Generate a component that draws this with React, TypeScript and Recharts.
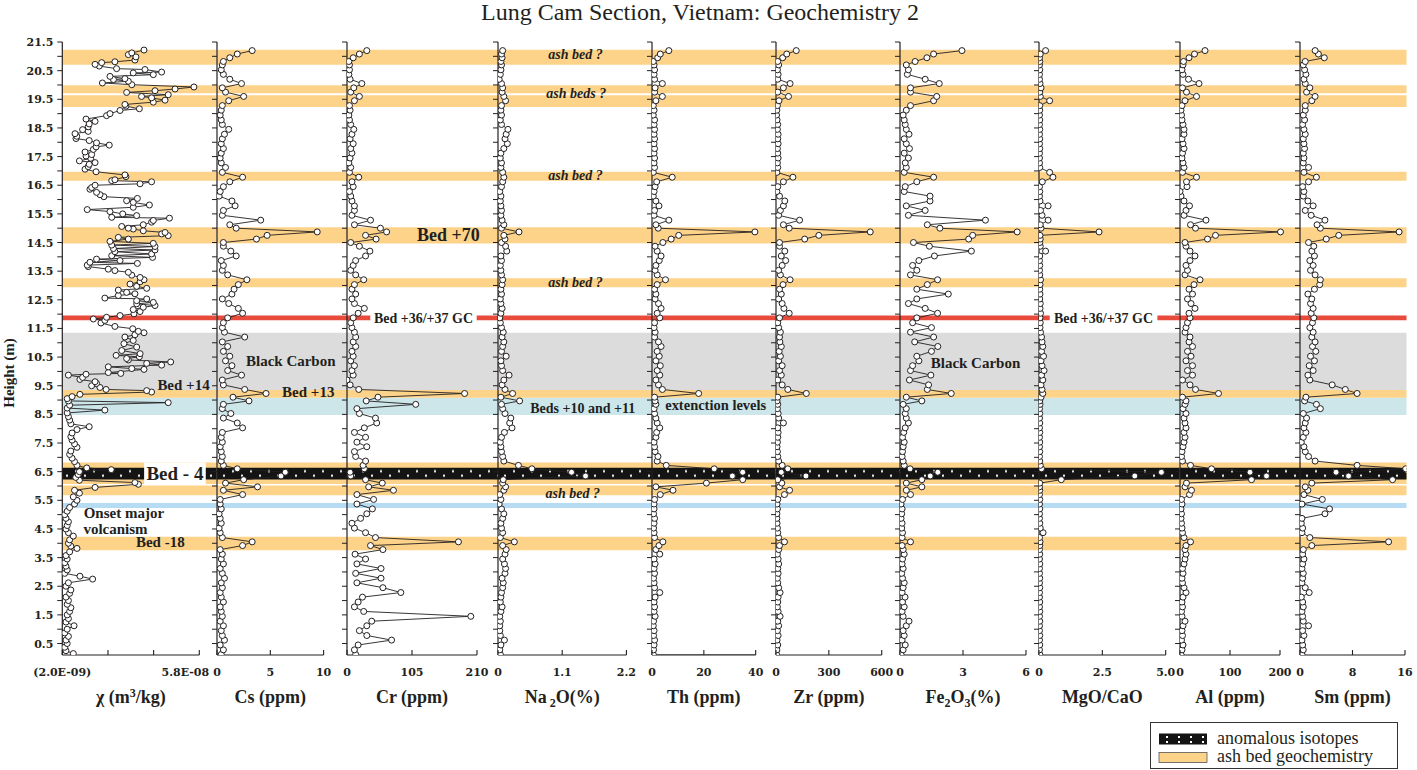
import React from "react";
import {
  LineChart,
  Line,
  XAxis,
  YAxis,
  ReferenceArea,
  ReferenceLine,
  ReferenceDot,
} from "recharts";

const SERIF = '"Liberation Serif", "Times New Roman", serif';
const TICK_FONT = '"DejaVu Serif", serif';
const INK = "#231f20";
const ASH = "#fdd38a";
const CARBON = "#dcdcdc";
const EXTINCTION = "#cde6ea";
const ONSET = "#b5dcf2";
const GC_RED = "#e84a3c";

const CHART_H = 720;
const PLOT_TOP = 42;
const PLOT_BOTTOM = 655;

// sample heights (m) of the geochemistry samples
const heights = [
  0.12, 0.28, 0.45, 0.62, 0.78, 0.95, 1.12, 1.28, 1.45, 1.62,
  1.78, 1.95, 2.12, 2.28, 2.45, 2.62, 2.78, 2.95, 3.12, 3.28,
  3.45, 3.62, 3.78, 3.92, 4.05, 4.2, 4.37, 4.53, 4.7, 4.87,
  5.03, 5.2, 5.37, 5.53, 5.7, 5.85, 5.97, 6.1, 6.22, 6.35,
  6.48, 6.6, 6.72, 6.87, 7.03, 7.2, 7.37, 7.53, 7.7, 7.87,
  8.03, 8.2, 8.37, 8.53, 8.7, 8.85, 8.97, 9.1, 9.23, 9.37,
  9.53, 9.7, 9.87, 10.03, 10.2, 10.37, 10.53, 10.7, 10.87, 11.03,
  11.2, 11.37, 11.53, 11.7, 11.87, 12.03, 12.2, 12.37, 12.53, 12.7,
  12.87, 13.03, 13.2, 13.37, 13.53, 13.7, 13.87, 14.03, 14.2, 14.37,
  14.5, 14.62, 14.75, 14.87, 15.0, 15.12, 15.28, 15.45, 15.62, 15.78,
  15.95, 16.12, 16.28, 16.45, 16.62, 16.78, 16.95, 17.12, 17.28, 17.45,
  17.62, 17.78, 17.95, 18.12, 18.28, 18.45, 18.62, 18.78, 18.95, 19.12,
  19.28, 19.45, 19.6, 19.75, 19.9, 20.05, 20.2, 20.37, 20.53, 20.7,
  20.82, 20.95, 21.08, 21.2,
];

const cs = [
  0.4, 0.6, 0.3, 0.7, 0.5, 0.4, 0.6, 0.3, 0.5, 0.4,
  0.3, 0.6, 0.4, 0.3, 0.5, 0.4, 0.7, 0.5, 0.3, 0.6,
  0.4, 0.5, 0.3, 2.4, 3.3, 0.5, 0.3, 0.2, 0.4, 0.3,
  0.2, 0.4, 0.3, 0.3, 2.4, 0.6, 3.8, 0.8, 2.5, 6.0,
  6.4, 1.9, 0.6, 0.4, 0.5, 0.4, 0.3, 0.5, 0.4, 0.5,
  2.4, 1.9, 0.6, 1.3, 0.5, 0.6, 3.0, 1.5, 4.6, 2.6,
  0.6, 0.5, 2.3, 1.0, 1.4, 0.8, 1.2, 0.6, 1.0, 0.5,
  2.6, 0.7, 0.5, 0.6, 1.0, 2.4, 2.0, 1.1, 0.5, 1.4,
  1.6, 2.0, 2.8, 1.0, 0.5, 0.6, 0.4, 1.8, 1.3, 0.6,
  0.6, 3.7, 4.7, 9.4, 1.8, 1.2, 4.1, 0.5, 0.6, 1.7,
  1.4, 0.2, 0.3, 0.6, 1.2, 2.4, 0.5, 0.8, 0.4, 0.3,
  0.4, 0.6, 0.4, 0.5, 0.7, 1.1, 0.5, 0.4, 0.3, 0.4,
  0.5, 1.1, 2.5, 0.8, 0.5, 2.3, 1.2, 0.6, 0.4, 0.5,
  0.6, 1.2, 1.9, 3.3,
];

const cr = [
  14, 12, 18, 72, 32, 20, 32, 40, 200, 27,
  12, 18, 25, 87, 58, 16, 55, 14, 55, 16,
  30, 13, 58, 38, 180, 46, 30, 12, 8, 22,
  32, 41, 16, 43, 16, 75, 35, 57, 30, 6,
  5, 28, 26, 30, 14, 12, 32, 16, 30, 12,
  28, 48, 46, 20, 16, 111, 31, 50, 190, 19,
  5, 0, 10, 8, 12, 6, 10, 8, 14, 10,
  14, 12, 8, 6, 10, 18, 28, 12, 8, 14,
  8, 12, 27, 14, 6, 10, 14, 30, 37, 20,
  6, 47, 30, 64, 54, 12, 38, 8, 12, 12,
  8, 6, 4, 10, 8, 19, 4, 6, 3, 5,
  8, 6, 10, 5, 8, 11, 6, 4, 3, 5,
  4, 12, 20, 6, 11, 24, 5, 3, 4, 4,
  3, 10, 20, 32,
];

const na2o = [
  0.04, 0.03, 0.05, 0.11, 0.04, 0.03, 0.03, 0.04, 0.03, 0.05,
  0.07, 0.04, 0.05, 0.06, 0.08, 0.09, 0.07, 0.12, 0.13, 0.11,
  0.08, 0.12, 0.14, 0.08, 0.28, 0.04, 0.08, 0.06, 0.05, 0.08,
  0.1, 0.06, 0.02, 0.05, 0.03, 0.1, 0.13, 0.08, 0.09, 1.5,
  1.26, 0.58, 0.35, 0.1, 0.08, 0.06, 0.05, 0.04, 0.06, 0.11,
  0.24, 0.2, 0.22, 0.12, 0.08, 0.06, 0.37, 0.05, 0.25, 0.12,
  0.07, 0.1, 0.19, 0.08, 0.06, 0.05, 0.14, 0.06, 0.08, 0.1,
  0.07, 0.09, 0.06, 0.04, 0.03, 0.05, 0.07, 0.05, 0.04, 0.06,
  0.05, 0.07, 0.08, 0.06, 0.05, 0.04, 0.06, 0.05, 0.15, 0.13,
  0.06, 0.12, 0.1, 0.36, 0.06, 0.1, 0.07, 0.05, 0.06, 0.05,
  0.04, 0.05, 0.03, 0.06, 0.08, 0.1, 0.08, 0.05, 0.06, 0.04,
  0.05, 0.1, 0.16, 0.12, 0.14, 0.17, 0.06, 0.04, 0.06, 0.05,
  0.06, 0.13, 0.1, 0.07, 0.08, 0.06, 0.02, 0.04, 0.05, 0.06,
  0.05, 0.07, 0.06, 0.08,
];

const th = [
  0.5, 0.6, 0.8, 1.0, 0.6, 0.8, 0.5, 0.6, 1.2, 0.8,
  1.0, 0.8, 1.2, 3.0, 1.0, 0.8, 0.6, 1.0, 0.8, 1.2,
  0.8, 3.0, 1.5, 2.7, 4.2, 1.0, 0.8, 0.6, 0.8, 1.0,
  0.6, 0.8, 0.8, 1.0, 3.2, 8.1, 1.5, 21, 35, 31,
  35, 24, 5.5, 2.0, 2.3, 1.2, 1.0, 0.8, 1.5, 1.8,
  3.0, 2.0, 1.5, 1.0, 0.8, 1.5, 1.2, 1.0, 18, 4.0,
  2.5, 1.5, 3.0, 2.0, 3.2, 1.5, 2.8, 2.0, 3.5, 2.5,
  1.0, 1.2, 0.8, 1.0, 3.0, 2.0, 3.5, 2.5, 1.2, 1.5,
  1.0, 2.0, 5.2, 2.0, 1.2, 1.5, 2.8, 3.5, 2.0, 1.2,
  4.2, 7.4, 10.3, 39.7, 2.4, 1.5, 6.5, 0.8, 1.0, 2.7,
  1.5, 0.5, 0.8, 1.2, 1.8, 7.8, 0.5, 1.0, 0.8, 1.0,
  0.8, 1.0, 0.8, 1.0, 0.8, 1.0, 0.8, 1.0, 0.5, 0.8,
  0.5, 1.5, 4.0, 1.0, 1.2, 4.0, 1.0, 0.8, 1.0, 0.8,
  0.5, 2.2, 3.2, 6.5,
];

const zr = [
  3, 5, 10, 6, 12, 8, 15, 10, 23, 12,
  8, 10, 12, 23, 15, 10, 8, 12, 10, 15,
  12, 8, 15, 20, 48, 15, 10, 8, 6, 5,
  5, 8, 6, 10, 48, 77, 20, 33, 10, 170,
  30, 67, 35, 15, 10, 8, 6, 8, 10, 12,
  10, 42, 15, 12, 8, 10, 6, 10, 172, 67,
  35, 10, 30, 20, 35, 15, 25, 18, 30, 22,
  20, 25, 15, 10, 20, 75, 45, 35, 15, 30,
  20, 40, 80, 25, 15, 35, 55, 30, 50, 20,
  20, 163, 243, 535, 75, 42, 134, 15, 25, 42,
  50, 20, 5, 10, 42, 96, 5, 10, 8, 12,
  10, 8, 12, 10, 12, 8, 10, 6, 3, 5,
  8, 17, 71, 10, 42, 80, 10, 12, 8, 15,
  10, 38, 61, 115,
];

const fe2o3 = [
  0.05, 0.15, 0.25, 0.1, 0.2, 0.15, 0.3, 0.43, 0.15, 0.1,
  0.2, 0.12, 0.24, 0.1, 0.15, 0.2, 0.12, 0.08, 0.15, 0.1,
  0.12, 0.2, 0.15, 0.1, 0.5, 0.1, 0.12, 0.08, 0.1, 0.05,
  0.08, 0.1, 0.05, 0.12, 0.5, 0.3, 1.04, 0.3, 1.04, 1.44,
  1.8, 0.48, 0.2, 0.15, 0.1, 0.12, 0.15, 0.2, 0.12, 0.18,
  0.25, 0.4, 0.3, 0.25, 0.3, 0.15, 1.04, 0.3, 2.44, 1.3,
  1.36, 0.45, 1.47, 0.5, 0.6, 0.9, 0.8, 1.5, 1.8, 0.7,
  1.6, 0.5, 1.5, 0.6, 0.8, 1.79, 1.2, 0.4, 0.8, 2.3,
  0.8, 1.3, 1.79, 0.5, 0.8, 0.6, 0.9, 1.64, 3.4, 1.4,
  0.64, 3.27, 3.46, 5.58, 1.9, 1.3, 4.07, 0.4, 1.2, 0.3,
  1.43, 1.43, 0.2, 0.25, 0.8, 1.6, 0.2, 0.3, 0.25, 0.4,
  0.2, 0.45, 0.3, 0.2, 0.43, 0.3, 0.25, 0.2, 0.15, 0.3,
  0.5, 1.6, 1.75, 0.5, 0.5, 1.87, 1.2, 0.35, 0.4, 0.3,
  0.72, 1.28, 1.6, 2.95,
];

const mgoCao = [
  0.03, 0.02, 0.03, 0.02, 0.03, 0.02, 0.02, 0.03, 0.02, 0.03,
  0.02, 0.03, 0.02, 0.02, 0.03, 0.02, 0.03, 0.02, 0.02, 0.03,
  0.02, 0.03, 0.02, 0.03, 0.04, 0.02, 0.16, 0.05, 0.03, 0.02,
  0.02, 0.03, 0.02, 0.03, 0.02, 0.03, 0.02, 0.03, 0.88, 3.78,
  4.83, 0.1, 0.05, 0.03, 0.02, 0.03, 0.02, 0.03, 0.02, 0.03,
  0.02, 0.03, 0.02, 0.03, 0.02, 0.04, 0.03, 0.08, 0.15, 0.12,
  0.08, 0.15, 0.1, 0.2, 0.12, 0.08, 0.18, 0.1, 0.15, 0.12,
  0.1, 0.06, 0.04, 0.05, 0.04, 0.06, 0.04, 0.05, 0.03, 0.04,
  0.03, 0.04, 0.06, 0.03, 0.02, 0.03, 0.02, 0.03, 0.26, 0.05,
  0.03, 0.05, 0.04, 2.37, 0.08, 0.05, 0.36, 0.12, 0.06, 0.36,
  0.04, 0.02, 0.03, 0.02, 0.13, 0.55, 0.42, 0.03, 0.02, 0.02,
  0.02, 0.03, 0.02, 0.03, 0.02, 0.03, 0.02, 0.03, 0.02, 0.03,
  0.03, 0.42, 0.05, 0.03, 0.08, 0.04, 0.02, 0.02, 0.03, 0.02,
  0.03, 0.02, 0.05, 0.26,
];

const al = [
  2, 4, 6, 3, 5, 4, 6, 10, 4, 3,
  5, 4, 6, 12, 8, 5, 4, 6, 5, 8,
  10, 12, 10, 12, 21, 8, 5, 4, 3, 2,
  3, 2, 4, 3, 19, 23, 10, 13, 143, 173,
  140, 63, 21, 5, 3, 4, 6, 8, 10, 8,
  12, 10, 8, 12, 6, 10, 12, 5, 77, 31,
  20, 5, 25, 15, 25, 12, 22, 15, 25, 18,
  20, 10, 12, 15, 20, 18, 30, 22, 15, 25,
  18, 28, 40, 10, 15, 12, 20, 30, 20, 12,
  10, 55, 71, 201, 31, 21, 52, 8, 12, 19,
  8, 2, 0, 14, 13, 33, 5, 8, 6, 4,
  5, 8, 6, 4, 8, 8, 6, 4, 3, 2,
  4, 10, 33, 13, 5, 38, 17, 6, 4, 6,
  7, 18, 29, 50,
];

const sm = [
  0.3, 0.5, 0.4, 0.3, 0.6, 0.4, 1.3, 0.5, 0.4, 0.3,
  0.5, 0.4, 0.2, 1.4, 0.8, 0.3, 0.4, 0.5, 0.3, 0.4,
  0.6, 0.4, 0.5, 1.8, 13.5, 1.5, 0.3, 0.4, 0.2, 0.3,
  3.8, 4.5, 0.3, 3.4, 0.6, 1.2, 0.8, 1.8, 14.1, 7.4,
  5.5, 16.1, 8.7, 2.3, 1.3, 0.8, 0.6, 0.2, 0.5, 0.9,
  0.6, 0.8, 1.0, 0.5, 3.1, 2.5, 0.7, 0.9, 8.7, 6.9,
  4.9, 1.5, 1.2, 2.0, 1.4, 2.2, 1.6, 2.4, 1.9, 2.3,
  1.8, 2.0, 1.5, 1.9, 2.1, 1.7, 2.0, 1.6, 1.8, 1.2,
  2.2, 3.0, 3.1, 2.3, 1.6, 2.0, 1.5, 2.2, 1.8, 2.1,
  1.3, 4.0, 5.9, 15.1, 3.1, 2.6, 3.8, 1.7, 0.8, 2.0,
  1.2, 0.5, 0.6, 0.4, 1.3, 2.5, 0.6, 1.3, 0.5, 0.6,
  0.5, 0.7, 0.6, 0.5, 0.8, 0.6, 0.4, 0.7, 0.5, 0.8,
  0.8, 1.8, 2.3, 1.0, 1.5, 0.8, 0.6, 0.9, 0.7, 0.5,
  0.8, 3.7, 2.8, 2.3,
];

// magnetic susceptibility has its own, denser sampling (units of 1E-08 m3/kg)
const chiHeights = [
  0.15, 0.25, 0.37, 0.5, 0.62, 0.75, 0.87, 1.0, 1.12, 1.25,
  1.37, 1.5, 1.62, 1.75, 1.87, 2.0, 2.12, 2.25, 2.37, 2.5,
  2.62, 2.75, 2.85, 2.95, 3.07, 3.2, 3.32, 3.45, 3.57, 3.7,
  3.82, 3.9, 4.0, 4.12, 4.25, 4.37, 4.5, 4.62, 4.75, 4.87,
  5.0, 5.12, 5.25, 5.37, 5.5, 5.62, 5.75, 5.85, 5.95, 6.06,
  6.12, 6.2, 6.3, 6.4, 6.5, 6.57, 6.63, 6.72, 6.85, 6.97,
  7.1, 7.22, 7.35, 7.47, 7.6, 7.72, 7.85, 7.97, 8.07, 8.17,
  8.3, 8.42, 8.55, 8.65, 8.72, 8.82, 8.91, 8.97, 9.05, 9.12,
  9.2, 9.28, 9.33, 9.37, 9.44, 9.5, 9.58, 9.64, 9.72, 9.79,
  9.87, 9.9, 9.93, 9.96, 10.07, 10.1, 10.16, 10.22, 10.28, 10.33,
  10.4, 10.45, 10.51, 10.56, 10.62, 10.73, 10.85, 10.97, 11.08, 11.2,
  11.28, 11.35, 11.4, 11.49, 11.57, 11.69, 11.78, 11.83, 11.89, 11.95,
  12.01, 12.09, 12.16, 12.24, 12.3, 12.36, 12.41, 12.47, 12.53, 12.56,
  12.65, 12.71, 12.76, 12.84, 12.9, 12.97, 13.05, 13.13, 13.2, 13.28,
  13.36, 13.46, 13.52, 13.57, 13.66, 13.71, 13.77, 13.81, 13.87, 13.92,
  13.98, 14.04, 14.1, 14.18, 14.24, 14.29, 14.36, 14.41, 14.47, 14.54,
  14.62, 14.68, 14.74, 14.8, 14.85, 14.91, 14.97, 15.0, 15.06, 15.12,
  15.21, 15.27, 15.35, 15.38, 15.44, 15.5, 15.58, 15.65, 15.73, 15.81,
  15.9, 15.96, 16.04, 16.1, 16.17, 16.25, 16.36, 16.42, 16.5, 16.55,
  16.62, 16.66, 16.69, 16.8, 16.86, 16.97, 17.06, 17.15, 17.23, 17.29,
  17.35, 17.44, 17.52, 17.57, 17.66, 17.75, 17.84, 17.9, 17.98, 18.06,
  18.13, 18.21, 18.3, 18.38, 18.44, 18.54, 18.64, 18.73, 18.81, 18.93,
  19.0, 19.11, 19.17, 19.26, 19.32, 19.4, 19.47, 19.55, 19.6, 19.66,
  19.74, 19.8, 19.86, 19.93, 20.01, 20.07, 20.13, 20.19, 20.22, 20.3,
  20.36, 20.42, 20.45, 20.54, 20.57, 20.66, 20.72, 20.78, 20.81, 20.87,
  20.98, 21.06, 21.12, 21.22,
];
const chi = [
  0.65, 0.35, 0.3, 0.4, 0.35, 0.45, 0.3, 0.4, 0.68, 0.35,
  0.45, 0.4, 0.5, 0.55, 0.4, 0.45, 0.35, 0.5, 0.55, 0.35,
  0.45, 1.44, 0.92, 0.3, 0.4, 0.35, 0.3, 0.4, 0.35, 0.5,
  0.8, 0.55, 0.45, 0.5, 0.65, 0.45, 0.35, 0.4, 0.45, 0.35,
  0.3, 0.4, 0.5, 0.7, 0.8, 0.65, 0.9, 0.7, 1.54, 3.31,
  3.17, 0.9, 0.75, 0.85, 0.9, 2.2, 1.2, 0.8, 0.7, 0.6,
  0.5, 0.55, 0.8, 0.7, 0.6, 0.55, 0.6, 0.8, 1.3, 0.55,
  0.5, 0.45, 0.4, 1.94, 0.4, 0.5, 4.53, 0.45, 0.4, 0.6,
  0.92, 3.85, 3.65, 1.99, 1.74, 1.4, 1.6, 1.54, 0.92, 1.03,
  0.45, 1.17, 2.59, 2.08, 3.54, 3.04, 2.08, 4.26, 3.65, 4.63,
  2.9, 2.83, 3.35, 2.4, 3.38, 2.63, 3.24, 2.72, 3.1, 2.76,
  3.17, 3.54, 3.31, 3.08, 2.35, 1.78, 1.94, 1.47, 2.01, 2.56,
  3.13, 3.38, 3.1, 3.51, 3.99, 3.24, 3.92, 3.24, 3.65, 1.94,
  2.49, 3.17, 2.83, 2.49, 3.65, 3.24, 2.97, 3.38, 3.54, 3.38,
  3.04, 2.9, 2.35, 2.08, 1.26, 1.22, 3.27, 1.33, 2.56, 1.6,
  3.89, 2.22, 3.85, 2.35, 3.99, 2.29, 3.99, 2.22, 3.92, 2.15,
  2.9, 2.49, 4.53, 4.26, 4.4, 3.51, 3.1, 2.9, 2.63, 3.51,
  3.85, 3.92, 4.58, 2.22, 3.24, 2.67, 2.15, 1.22, 3.1, 3.76,
  3.1, 2.83, 3.27, 1.9, 1.74, 1.6, 1.33, 1.4, 1.54, 3.38,
  3.85, 2.22, 2.35, 2.8, 2.76, 1.58, 1.13, 1.26, 1.3, 1.54,
  0.9, 1.36, 1.17, 1.4, 1.13, 1.47, 1.58, 2.12, 1.6, 1.3,
  0.76, 0.79, 0.72, 1.26, 1.03, 1.26, 1.3, 1.54, 1.17, 2.01,
  2.15, 2.56, 3.35, 2.8, 2.76, 3.92, 4.4, 3.85, 3.44, 4.53,
  2.83, 3.99, 4.81, 5.58, 3.04, 1.84, 2.9, 2.29, 2.76, 2.15,
  3.92, 3.1, 4.26, 3.58, 2.42, 1.71, 1.54, 1.81, 2.35, 3.17,
  3.21, 2.9, 3.04, 3.54,
];

const yTicks = [
  0.5, 1, 1.5, 2, 2.5, 3, 3.5, 4, 4.5, 5, 5.5, 6, 6.5, 7, 7.5, 8, 8.5, 9, 9.5, 10,
  10.5, 11, 11.5, 12, 12.5, 13, 13.5, 14, 14.5, 15, 15.5, 16, 16.5, 17, 17.5, 18,
  18.5, 19, 19.5, 20, 20.5, 21, 21.5,
];

// marker horizons (m)
const ashBeds = [
  [20.71, 21.23], [19.71, 19.99], [19.23, 19.64], [16.66, 16.97], [14.47, 15.03],
  [12.94, 13.25], [9.08, 9.35], [6.07, 6.82], [5.68, 6.02], [3.76, 4.23],
];
const isotopeBed = [6.23, 6.64];
const blackCarbon = [9.35, 11.35];
const extinctionBeds = [8.48, 9.08];
const volcanismOnset = [5.23, 5.41];
const gcLevel = 11.87;

type Seg = { t: string; sub?: boolean; sup?: boolean };
type Panel = {
  key: string;
  left: number;
  right: number;
  endPx: number;
  d0: number;
  end: number;
  ticks: number[];
  labels: (string | null)[];
  labelDx?: number[];
  titleAt: number;
  title: Seg[];
  hs: number[];
  values: number[];
};

const panels: Panel[] = [
  { key: "chi", left: 62.3, right: 216.7, endPx: 199.3, d0: 0.2, end: 5.8,
    ticks: [0.2, 2.067, 3.933, 5.8, 3.0], labels: ["(2.0E-09)", "", "", "5.8E-08", null],
    labelDx: [0, 0, 0, -14, 0], titleAt: 3.0,
    title: [{ t: "\u03c7 (m" }, { t: "3", sup: true }, { t: "/kg)" }], hs: chiHeights, values: chi },
  { key: "cs", left: 216.7, right: 346.7, endPx: 323.3, d0: 0, end: 10,
    ticks: [0, 5, 10], labels: ["0", "5", "10"], titleAt: 5,
    title: [{ t: "Cs (ppm)" }], hs: heights, values: cs },
  { key: "cr", left: 346.7, right: 498.3, endPx: 476.7, d0: 0, end: 210,
    ticks: [0, 105, 210], labels: ["0", "105", "210"], titleAt: 105,
    title: [{ t: "Cr (ppm)" }], hs: heights, values: cr },
  { key: "na", left: 498.3, right: 652.3, endPx: 626.7, d0: 0, end: 2.2,
    ticks: [0, 1.1, 2.2], labels: ["0", "1.1", "2.2"], titleAt: 1.1,
    title: [{ t: "Na" }, { t: " 2", sub: true }, { t: "O(%)" }], hs: heights, values: na2o },
  { key: "th", left: 652.3, right: 776, endPx: 756, d0: 0, end: 40,
    ticks: [0, 20, 40], labels: ["0", "20", "40"], titleAt: 20,
    title: [{ t: "Th (ppm)" }], hs: heights, values: th },
  { key: "zr", left: 776, right: 900, endPx: 881.7, d0: 0, end: 600,
    ticks: [0, 300, 600], labels: ["0", "300", "600"], titleAt: 300,
    title: [{ t: "Zr (ppm)" }], hs: heights, values: zr },
  { key: "fe", left: 900, right: 1039.3, endPx: 1026, d0: 0, end: 6,
    ticks: [0, 3, 6], labels: ["0", "3", "6"], titleAt: 3,
    title: [{ t: "Fe" }, { t: "2", sub: true }, { t: "O" }, { t: "3", sub: true }, { t: "(%)" }],
    hs: heights, values: fe2o3 },
  { key: "mg", left: 1039.3, right: 1180, endPx: 1166, d0: 0, end: 5,
    ticks: [0, 2.5, 5], labels: ["0", "2.5", "5.0"], titleAt: 2.5,
    title: [{ t: "MgO/CaO" }], hs: heights, values: mgoCao },
  { key: "al", left: 1180, right: 1300, endPx: 1280, d0: 0, end: 200,
    ticks: [0, 100, 200], labels: ["0", "100", "200"], titleAt: 100,
    title: [{ t: "Al (ppm)" }], hs: heights, values: al },
  { key: "sm", left: 1300, right: 1406.5, endPx: 1405, d0: 0, end: 16,
    ticks: [0, 8, 16], labels: ["0", "8", "16"], titleAt: 8,
    title: [{ t: "Sm (ppm)" }], hs: heights, values: sm },
];

function XTick(props: any) {
  const { x, y, payload, panel } = props;
  const i = panel.ticks.indexOf(payload.value);
  const label = panel.labels[i];
  const dx = panel.labelDx ? panel.labelDx[i] : 0;
  let shift = 0;
  return (
    <g>
      {label !== null && (
        <line x1={x} x2={x} y1={y} y2={y - 5} stroke={INK} strokeWidth={1.1} />
      )}
      {label ? (
        <text x={x + dx} y={y + 21} textAnchor="middle" fontFamily={TICK_FONT}
          fontWeight={700} fontSize={11} fill={INK}>{label}</text>
      ) : null}
      {payload.value === panel.titleAt && (
        <text x={x} y={y + 48} textAnchor="middle" fontFamily={SERIF} fontWeight={700}
          fontSize={18} fill={INK}>
          {panel.title.map((s: Seg, k: number) => {
            const target = s.sub ? 4 : s.sup ? -6 : 0;
            const dy = target - shift;
            shift = target;
            return (
              <tspan key={k} dy={dy} fontSize={target ? 12 : 18}>{s.t}</tspan>
            );
          })}
        </text>
      )}
    </g>
  );
}

function HeightTick(props: any) {
  const { x, y, payload } = props;
  if (Math.abs((payload.value % 1) - 0.5) > 0.01) return null;
  return (
    <text x={x} y={y} dy={4} textAnchor="end" fontFamily={TICK_FONT} fontWeight={700}
      fontSize={11} fill={INK}>{payload.value.toFixed(1)}</text>
  );
}

const noTick = () => null;

const labelStyle = (size: number, italic = false) => ({
  position: "center" as const,
  fill: INK,
  fontSize: size,
  fontWeight: 700,
  fontStyle: italic ? "italic" : "normal",
  fontFamily: SERIF,
});

function note(key: string, x: number, y: number, text: string, size: number, italic = false) {
  return (
    <ReferenceDot key={key} x={x} y={y} r={0} fill="none" stroke="none" ifOverflow="visible"
      label={{ value: text, ...labelStyle(size, italic) }} />
  );
}

function horizons() {
  const area = (key: string, y1: number, y2: number, fill: string) => (
    <ReferenceArea key={key} y1={y1} y2={y2} fill={fill} fillOpacity={1} stroke="none" />
  );
  return [
    area("carbon", blackCarbon[0], blackCarbon[1], CARBON),
    area("extinction", extinctionBeds[0], extinctionBeds[1], EXTINCTION),
    area("onset", volcanismOnset[0], volcanismOnset[1], ONSET),
    ...ashBeds.map(([a, b], i) => area("ash" + i, a, b, ASH)),
    area("isotope", isotopeBed[0], isotopeBed[1], "url(#isoDots)"),
    area("gc", gcLevel - 0.08, gcLevel + 0.08, GC_RED),
  ];
}

function annotations(key: string) {
  const gcBox = (x1: number, x2: number) => (
    <ReferenceArea key="gcbox" x1={x1} x2={x2} y1={gcLevel - 0.12} y2={gcLevel + 0.12}
      fill="#fff" fillOpacity={1} stroke="none"
      label={{ value: "Bed +36/+37 GC", ...labelStyle(14) }} />
  );
  switch (key) {
    case "chi":
      return [
        <ReferenceArea key="bed4" x1={3.545} x2={6.065} y1={6.07} y2={6.82} fill="#fff"
          fillOpacity={1} stroke="none" label={{ value: "Bed - 4", ...labelStyle(19) }} />,
        note("b14", 5.155, 9.52, "Bed +14", 15),
        note("onset1", 2.718, 5.07, "Onset major", 15),
        note("onset2", 2.375, 4.52, "volcanism", 15),
        note("b18", 4.206, 4.05, "Bed -18", 15),
      ];
    case "cs":
      return [
        note("bc", 6.92, 10.37, "Black Carbon", 15),
        note("b13", 8.56, 9.28, "Bed +13", 15),
      ];
    case "cr":
      return [gcBox(37.6, 209.5), note("b70", 163.7, 14.79, "Bed +70", 18)];
    case "na":
      return [
        note("a1", 1.328, 21.07, "ash bed ?", 14, true),
        note("a2", 1.34, 19.72, "ash beds ?", 14, true),
        note("a3", 1.328, 16.85, "ash bed ?", 14, true),
        note("a4", 1.328, 13.13, "ash bed ?", 14, true),
        note("a5", 1.28, 5.74, "ash bed ?", 14, true),
        note("b10", 1.451, 8.73, "Beds +10 and +11", 14),
      ];
    case "th":
      return [note("ext", 24.57, 8.82, "extenction levels", 14.5)];
    case "fe":
      return [note("bc2", 3.595, 10.3, "Black Carbon", 15)];
    case "mg":
      return [gcBox(0.422, 4.673)];
    default:
      return [];
  }
}

const RIGHT_PAD = 12;

function Column({ p, first }: { p: Panel; first: boolean }) {
  const yW = first ? p.left : 6;
  const width = p.right - p.left + yW + RIGHT_PAD;
  const dMax = p.d0 + ((p.right - p.left) * (p.end - p.d0)) / (p.endPx - p.left);
  const rows = p.hs.map((h, i) => ({ h, v: p.values[i] }));
  return (
    <div style={{ position: "absolute", left: first ? 0 : p.left - yW, top: 0 }}>
      <LineChart layout="vertical" width={width} height={CHART_H} data={rows}
        margin={{ top: PLOT_TOP, right: RIGHT_PAD, bottom: 0, left: 0 }}>
        <XAxis type="number" domain={[p.d0, dMax]} ticks={p.ticks} interval={0}
          allowDataOverflow axisLine={false} tickLine={false} tickSize={0} tickMargin={0}
          height={CHART_H - PLOT_BOTTOM} tick={(t: any) => <XTick {...t} panel={p} />} />
        <YAxis type="number" dataKey="h" domain={[0.1, 21.5]} ticks={yTicks} interval={0}
          reversed allowDataOverflow width={yW} tickSize={5} tickMargin={4}
          axisLine={{ stroke: INK, strokeWidth: 1.2 }} tickLine={{ stroke: INK, strokeWidth: 1 }}
          tick={first ? HeightTick : noTick} />
        {horizons()}
        {annotations(p.key)}
        <ReferenceLine segment={[{ x: p.d0, y: 0.1 }, { x: p.end, y: 0.1 }]} stroke={INK}
          strokeWidth={1.2} ifOverflow="visible" />
        <Line dataKey="v" stroke={INK} strokeWidth={0.9} isAnimationActive={false}
          dot={{ r: 3, fill: "#fff", stroke: INK, strokeWidth: 1 }} activeDot={false} />
      </LineChart>
    </div>
  );
}

export default function App() {
  return (
    <div style={{ position: "absolute", left: 0, top: 0, width: 1417, height: 770,
      background: "#fff", fontFamily: SERIF, overflow: "hidden" }}>
      <svg width={1417} height={770} style={{ position: "absolute", left: 0, top: 0 }}>
        <defs>
          <pattern id="isoDots" patternUnits="userSpaceOnUse" x={0} y={467.7} width={18} height={11.8}>
            <rect width={18} height={11.8} fill="#141414" />
            <rect x={3} y={2.5} width={2} height={2} fill="#fff" />
            <rect x={12} y={7} width={2} height={2} fill="#fff" />
          </pattern>
          <pattern id="legendDots" patternUnits="userSpaceOnUse" x={0} y={0} width={12} height={11}>
            <rect width={12} height={11} fill="#141414" />
            <rect x={3} y={2} width={2} height={2} fill="#fff" />
            <rect x={3} y={7} width={2} height={2} fill="#fff" />
          </pattern>
        </defs>
        <text x={700} y={20} textAnchor="middle" fontFamily={SERIF} fontSize={24} fill={INK}>
          Lung Cam Section, Vietnam: Geochemistry 2
        </text>
        <text transform="translate(14,373) rotate(-90)" textAnchor="middle" fontFamily={SERIF}
          fontWeight={700} fontSize={15} fill={INK}>Height (m)</text>
      </svg>
      {panels.map((p, i) => (
        <Column key={p.key} p={p} first={i === 0} />
      ))}
      <div style={{ position: "absolute", left: 1150, top: 722, width: 246, height: 45,
        border: "1px solid #333", background: "#fff" }}>
        <svg width={246} height={45}>
          <rect x={8} y={10.5} width={48} height={11} fill="url(#legendDots)" />
          <text x={66} y={21} fontFamily={SERIF} fontSize={18} fill={INK}>anomalous isotopes</text>
          <rect x={8} y={29.5} width={48} height={10} fill={ASH} stroke="#555" strokeWidth={0.8} />
          <text x={66} y={39} fontFamily={SERIF} fontSize={18} fill={INK}>ash bed geochemistry</text>
        </svg>
      </div>
    </div>
  );
}
